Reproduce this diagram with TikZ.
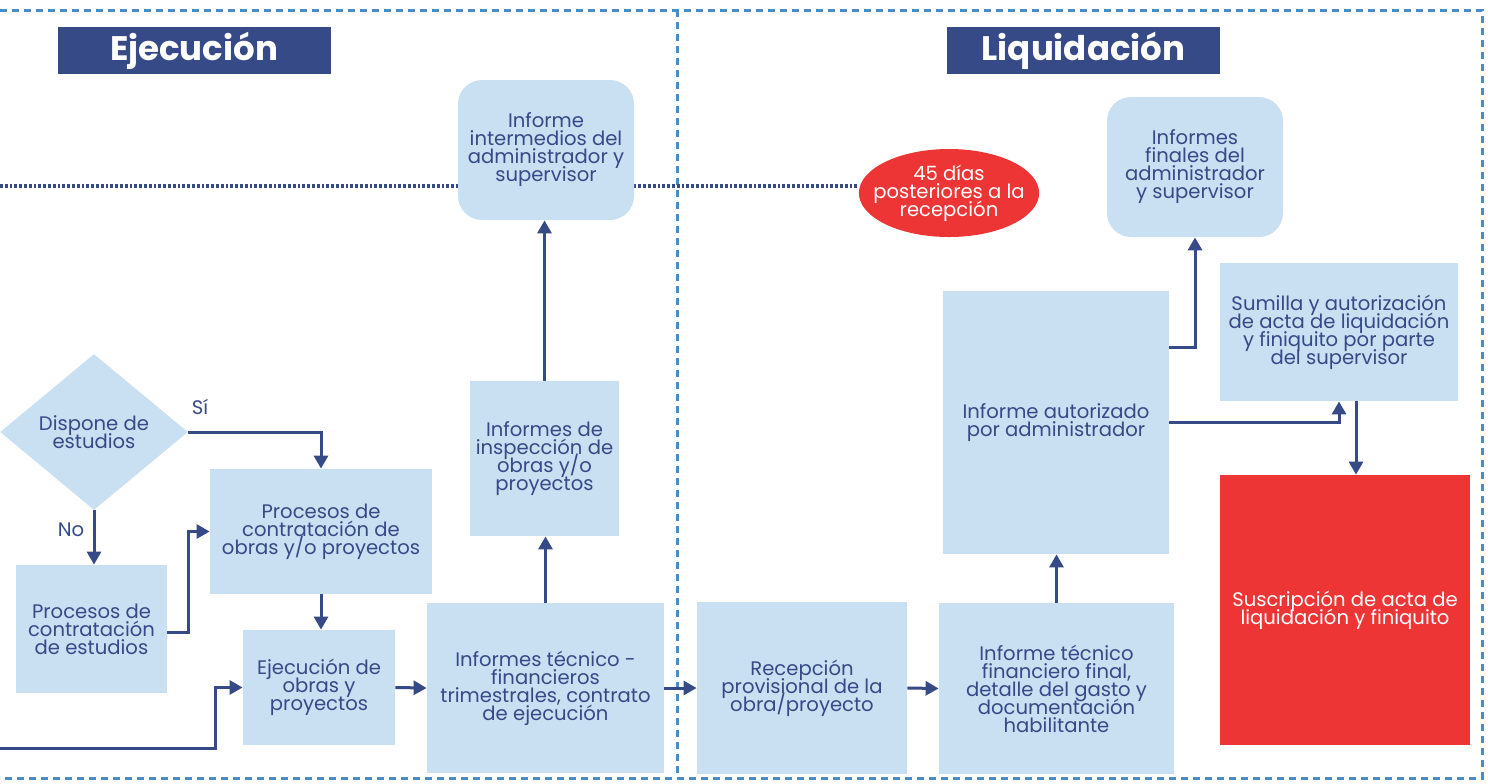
\documentclass[tikz,border=0pt]{standalone}
\usepackage{fontspec}
\setmainfont{Poppins}
\usetikzlibrary{arrows.meta,shapes.geometric,positioning,backgrounds}

\definecolor{navy}{HTML}{354A87}
\definecolor{paleblue}{HTML}{C9DFF2}
\definecolor{alertred}{HTML}{EE3535}
\definecolor{frameblue}{HTML}{4A8CC8}

\newcommand\boxfont{\fontsize{9.8}{9}\selectfont\lineskiplimit-6pt\relax}

\tikzset{
  dims/.style 2 args={minimum width=#1*0.5pt, minimum height=#2*0.5pt},
  box/.style={fill=paleblue, text=navy, align=center, inner sep=1pt, font=\boxfont},
  roundbox/.style={box, rounded corners=12pt},
  redbox/.style={box, fill=alertred, text=white},
  title/.style={fill=navy, text=white, inner sep=0pt, dims={273}{47},
    font=\fontsize{17}{17}\selectfont\bfseries},
  flow/.style={draw=navy, line width=1.5pt, -{Triangle[length=6.5pt,width=7pt]}},
  frame/.style={draw=frameblue, line width=1.5pt, dash pattern=on 3.5pt off 2.5pt},
  dots/.style={draw=navy, line width=1.6pt, dash pattern=on 1.4pt off 1pt},
  lbl/.style={text=navy, font=\boxfont}
}

\begin{document}
\begin{tikzpicture}[x=0.5pt,y=-0.5pt]
\useasboundingbox (0,0) rectangle (1488,783);

% titles
\node[title] (exectitle) at (194,50.5) {Ejecución};
\node[title] (liqtitle) at (1083.5,50.5) {Liquidación};

% ejecucion
\node[box, shape=diamond, inner sep=0pt, dims={188}{156}] (decide) at (94,432) {Dispone de\\estudios};
\node[box, dims={151}{128}] (studies) at (91.5,629) {Procesos de\\contratación\\de estudios};
\node[box, dims={222}{125}] (contract) at (321,531.5) {Procesos de\\contratación de\\obras y/o proyectos};
\node[box, dims={152}{115}] (execute) at (319,687.5) {Ejecución de\\obras y\\proyectos};
\node[box, dims={237}{170}] (quarterly) at (545.5,688) {Informes técnico -\\financieros\\trimestrales, contrato\\de ejecución};
\node[box, dims={149}{155}] (inspect) at (544.5,458.5) {Informes de\\inspección de\\obras y/o\\proyectos};
\node[roundbox, dims={176}{140}] (midrep) at (546,150) {Informe\\intermedios del\\administrador y\\supervisor};

% liquidacion
\node[box, shape=ellipse, fill=alertred, text=white, inner xsep=-6pt, inner ysep=0pt, dims={174}{88}] (days) at (949,193) {45 días\\posteriores a la\\recepción};
\node[box, dims={210}{172}] (reception) at (802,688) {Recepción\\provisional de la\\obra/proyecto};
\node[box, dims={235}{171}] (finalrep) at (1056.5,688.5) {Informe técnico\\financiero final,\\detalle del gasto y\\documentación\\habilitante};
\node[box, dims={226}{263}] (authorized) at (1056,422.5) {Informe autorizado\\por administrador};
\node[roundbox, dims={176}{140}] (closerep) at (1195,167) {Informes\\finales del\\administrador\\y supervisor};
\node[box, dims={238}{138}] (sign) at (1339,332) {Sumilla y autorización\\de acta de liquidación\\y finiquito por parte\\del supervisor};
\node[redbox, dims={250}{270}] (settle) at (1345,610) {Suscripción de acta de\\liquidación y finiquito};

\node[lbl] (yes) at (200,407) {Sí};
\node[lbl] (no) at (71,530) {No};

\coordinate (entry) at (0,748);
\coordinate (dotstart) at (0,186);

% frame and time line
\begin{scope}[on background layer]
\draw[frame] (0,10) -- (1482,10) -- (1482,778) -- (0,778);
\draw[frame] (677,10) -- (677,778);
\draw[dots] (dotstart) -- (dotstart -| days.west);
\end{scope}

% connectors
\draw[flow] (decide.east) -| (contract.north);
\draw[flow] (decide.south) -- (decide.south |- studies.north);
\draw[flow] ([yshift=-1.5pt]studies.east) -- ++(21,0) |- (contract.west);
\draw[flow] (contract.south) -- (contract.south |- execute.north);
\draw[flow] (entry) -- ++(215,0) |- (execute.west);
\draw[flow] (execute.east) -- (quarterly.west);
\draw[flow] (quarterly.north) -- (quarterly.north |- inspect.south);
\draw[flow] (inspect.north) -- (inspect.north |- midrep.south);
\draw[flow] (quarterly.east) -- (reception.west);
\draw[flow] (reception.east) -- (finalrep.west);
\draw[flow] (finalrep.north) -- (finalrep.north |- authorized.south);
\draw[flow] ([yshift=37.75pt]authorized.east) -| (closerep.south);
\draw[flow] (authorized.east) -| (sign.south);
\draw[flow] ([xshift=8.5pt]sign.south) -- ([xshift=8.5pt]sign.south |- settle.north);

\end{tikzpicture}
\end{document}
